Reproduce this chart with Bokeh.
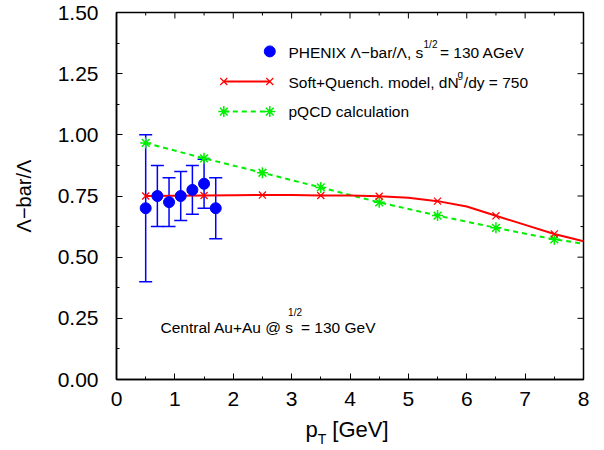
import math
from bokeh.plotting import figure
from bokeh.layouts import column
from bokeh.models import (Range1d, FixedTicker, Label, Whisker, Div,
                          TeeHead, ColumnDataSource, NumeralTickFormatter)
from bokeh.embed import file_html
from bokeh.resources import INLINE

# ---------------- data ----------------
phenix_pt = [0.5, 0.7, 0.9, 1.1, 1.3, 1.5, 1.7]
phenix_ratio = [0.70, 0.75, 0.725, 0.75, 0.775, 0.80, 0.70]
phenix_err = [0.30, 0.125, 0.10, 0.10, 0.10, 0.10, 0.125]

model_pt = [0.5, 1.0, 1.5, 2.0, 2.5, 3.0, 3.5, 4.0, 4.5, 5.0, 5.5, 6.0, 6.5, 7.0, 7.5, 8.0]
model_ratio = [0.750, 0.751, 0.752, 0.753, 0.754, 0.754, 0.752, 0.752, 0.749, 0.743,
               0.729, 0.707, 0.669, 0.632, 0.595, 0.565]
model_marker_pt = [0.5, 1.5, 2.5, 3.5, 4.5, 5.5, 6.5, 7.5]
model_marker_ratio = [0.750, 0.752, 0.754, 0.752, 0.749, 0.729, 0.669, 0.595]

pqcd_pt = [0.5, 1.5, 2.5, 3.5, 4.5, 5.5, 6.5, 7.5, 8.0]
pqcd_ratio = [0.967, 0.904, 0.845, 0.785, 0.724, 0.670, 0.620, 0.573, 0.555]
pqcd_marker_pt = pqcd_pt[:-1]
pqcd_marker_ratio = pqcd_ratio[:-1]

x_ticks = [0, 1, 2, 3, 4, 5, 6, 7, 8]
x_minor = [0.5, 1.5, 2.5, 3.5, 4.5, 5.5, 6.5, 7.5]
y_ticks = [0.0, 0.25, 0.5, 0.75, 1.0, 1.25, 1.5]
y_minor = [0.125, 0.375, 0.625, 0.875, 1.125, 1.375]
X_MIN, X_MAX = 0, 8
Y_MIN, Y_MAX = 0, 1.5

FONT = "Liberation Sans"
BLUE = "#0000ff"
RED = "#ff0000"
GREEN = "#00ee00"
BODY = "15.5px"
SUP = "10px"

p = figure(frame_width=467, frame_height=367,
           x_range=Range1d(X_MIN, X_MAX), y_range=Range1d(Y_MIN, Y_MAX),
           output_backend="svg", toolbar_location=None,
           min_border_left=116, min_border_right=13, min_border_top=12,
           min_border_bottom=30)
p.xgrid.visible = False
p.ygrid.visible = False
p.outline_line_color = "black"
p.outline_line_width = 1.5
p.background_fill_color = "white"
p.border_fill_color = "white"

xt = FixedTicker(ticks=x_ticks, minor_ticks=x_minor)
yt = FixedTicker(ticks=y_ticks, minor_ticks=y_minor)

for ax in (p.xaxis[0], p.yaxis[0]):
    ax.axis_line_color = "black"
    ax.axis_line_width = 1.5
    ax.major_tick_in = 6
    ax.major_tick_out = 0
    ax.minor_tick_in = 3
    ax.minor_tick_out = 0
    ax.major_tick_line_color = "black"
    ax.minor_tick_line_color = "black"
    ax.major_label_text_font = FONT
    ax.major_label_text_font_size = "21px"
    ax.major_label_text_color = "black"

p.xaxis.ticker = xt
p.yaxis.ticker = yt
p.xaxis.major_label_standoff = 12
p.yaxis.major_label_standoff = 18
p.yaxis.formatter = NumeralTickFormatter(format="0.00")
p.yaxis.axis_label = "Λ−bar/Λ"
p.yaxis.axis_label_text_font = FONT
p.yaxis.axis_label_text_font_size = "20px"
p.yaxis.axis_label_text_font_style = "normal"
p.yaxis.axis_label_text_color = "black"
p.yaxis.axis_label_standoff = 20

# ticks on the top and right frame edges (inward); half of each dash is clipped away
p.scatter(x_ticks, [Y_MAX] * len(x_ticks), marker="dash", angle=math.pi / 2,
          size=12, line_color="black", line_width=1)
p.scatter(x_minor, [Y_MAX] * len(x_minor), marker="dash", angle=math.pi / 2,
          size=6, line_color="black", line_width=1)
p.scatter([X_MAX] * len(y_ticks), y_ticks, marker="dash", size=12,
          line_color="black", line_width=1)
p.scatter([X_MAX] * len(y_minor), y_minor, marker="dash", size=6,
          line_color="black", line_width=1)

# ---------------- curves ----------------
p.line(pqcd_pt, pqcd_ratio, line_color=GREEN, line_width=2, line_dash="5 4")
p.scatter(pqcd_marker_pt, pqcd_marker_ratio, marker="asterisk", size=11,
          line_color=GREEN, line_width=1.5)
p.line(model_pt, model_ratio, line_color=RED, line_width=2)
p.scatter(model_marker_pt, model_marker_ratio, marker="x", size=10,
          line_color=RED, line_width=1.2)

src = ColumnDataSource(dict(
    x=phenix_pt, y=phenix_ratio,
    upper=[v + e for v, e in zip(phenix_ratio, phenix_err)],
    lower=[v - e for v, e in zip(phenix_ratio, phenix_err)]))
wh = Whisker(source=src, base="x", upper="upper", lower="lower",
             line_color=BLUE, line_width=1.5,
             upper_head=TeeHead(size=13, line_color=BLUE, line_width=1.5),
             lower_head=TeeHead(size=13, line_color=BLUE, line_width=1.5))
p.add_layout(wh)
p.scatter("x", "y", source=src, marker="circle", size=11, color=BLUE)

# ---------------- legend (drawn by hand) ----------------
leg_x0, leg_x1 = 1.838, 2.626
p.scatter([leg_x1], [1.341], marker="circle", size=11, color=BLUE)
p.line([leg_x0, leg_x1], [1.218, 1.218], line_color=RED, line_width=2)
p.scatter([leg_x0, leg_x1], [1.218, 1.218], marker="x", size=10, line_color=RED, line_width=1.2)
p.line([leg_x0, leg_x1], [1.095, 1.095], line_color=GREEN, line_width=2, line_dash="5 4")
p.scatter([leg_x0, leg_x1], [1.095, 1.095], marker="asterisk", size=11,
          line_color=GREEN, line_width=1.5)

DY = 0.02  # text baseline correction


def txt(x, y, s, size):
    p.add_layout(Label(x=x, y=y + DY, text=s, text_font=FONT, text_font_size=size,
                       text_color="black", text_baseline="alphabetic",
                       text_align="left"))


txt(2.946, 1.3173, "PHENIX Λ−bar/Λ, s", BODY)
txt(5.26, 1.350, "1/2", SUP)
txt(5.54, 1.3173, "= 130 AGeV", BODY)

txt(2.946, 1.1947, "Soft+Quench. model, dN", BODY)
txt(5.84, 1.226, "g", SUP)
txt(5.95, 1.1947, "/dy = 750", BODY)

txt(2.946, 1.0749, "pQCD calculation", BODY)

txt(0.754, 0.1933, "Central Au+Au @ s", BODY)
txt(2.94, 0.252, "1/2", SUP)
txt(3.16, 0.1933, "= 130 GeV", BODY)

# x axis title with subscript, as real HTML text below the plot
xlabel = Div(text='p<span style="font-size:14px; position:relative; top:7px;">T</span>'
                  '&nbsp;[GeV]',
             width=596, height=32, margin=(0, 0, 0, 0),
             styles={"font-family": FONT, "font-size": "22px", "line-height": "14px",
                     "color": "black", "text-align": "center",
                     "padding-left": "98px", "padding-top": "14px",
                     "box-sizing": "border-box", "white-space": "nowrap"})

layout = column(p, xlabel, spacing=0)
open("out.html", "w").write(file_html(layout, INLINE))
